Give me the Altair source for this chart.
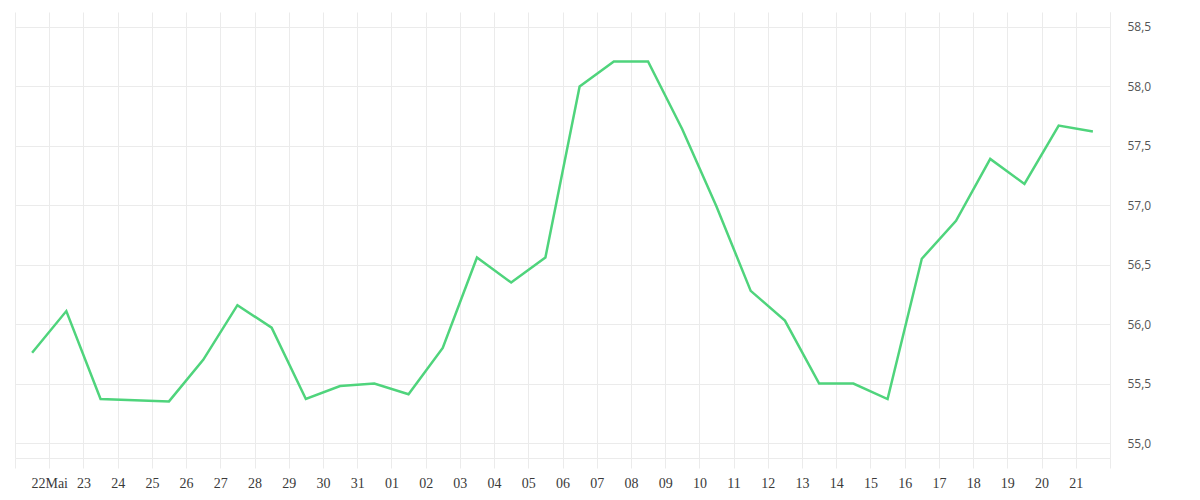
import altair as alt
import pandas as pd

dates = ["2024-05-21", "2024-05-22", "2024-05-23", "2024-05-25", "2024-05-26",
         "2024-05-27", "2024-05-28", "2024-05-29", "2024-05-30", "2024-05-31",
         "2024-06-01", "2024-06-02", "2024-06-03", "2024-06-04", "2024-06-05",
         "2024-06-06", "2024-06-07", "2024-06-08", "2024-06-09", "2024-06-10",
         "2024-06-11", "2024-06-12", "2024-06-13", "2024-06-14", "2024-06-15",
         "2024-06-16", "2024-06-17", "2024-06-18", "2024-06-19", "2024-06-20",
         "2024-06-21"]
values = [55.76, 56.11, 55.37, 55.35, 55.70, 56.16, 55.97, 55.37, 55.48, 55.50,
          55.41, 55.80, 56.56, 56.35, 56.56, 58.00, 58.21, 58.21, 57.64, 56.99,
          56.28, 56.03, 55.50, 55.50, 55.37, 56.55, 56.87, 57.39, 57.18, 57.67,
          57.62]
y_ticks = [55.0, 55.5, 56.0, 56.5, 57.0, 57.5, 58.0, 58.5]
x_start = "2024-05-21"
x_end = "2024-06-22"
first_label_day = "2024-05-22"
first_label_text = "22Mai"

df = pd.DataFrame({"date": [d + "T12:00:00Z" for d in dates], "value": values})

days = pd.date_range(x_start, x_end, freq="D", tz="UTC")
day_ms = [int(d.timestamp() * 1000) for d in days]
start_ms = day_ms[0]
end_ms = day_ms[-1]
first_ms = int(pd.Timestamp(first_label_day, tz="UTC").timestamp() * 1000)

label_expr = (
    f"(time(datum.value) == {start_ms} || time(datum.value) == {end_ms}) ? '' : "
    f"(time(datum.value) == {first_ms} ? '{first_label_text}' : utcFormat(datum.value, '%d'))"
)

grid_color = "#ebebeb"

chart = alt.Chart(df).mark_line(color="#4fd47c", strokeWidth=2.5).encode(
    x=alt.X(
        "date:T",
        scale=alt.Scale(type="utc", domain=[start_ms, end_ms]),
        axis=alt.Axis(
            title=None,
            values=day_ms,
            labelExpr=label_expr,
            grid=True,
            gridColor=grid_color,
            domainColor=grid_color,
            tickColor=grid_color,
            tickSize=10,
            labelOverlap=False,
            labelFlush=False,
            labelFont="Liberation Serif",
            labelFontSize=14,
            labelColor="#3a3a3a",
            labelPadding=8,
        ),
    ),
    y=alt.Y(
        "value:Q",
        scale=alt.Scale(domain=[54.874, 58.626], nice=False, zero=False),
        axis=alt.Axis(
            title=None,
            orient="right",
            values=y_ticks,
            labelExpr="replace(format(datum.value, '.1f'), '.', ',')",
            grid=True,
            gridColor=grid_color,
            domainColor=grid_color,
            ticks=False,
            labelPadding=17,
            labelFont="Open Sans",
            labelFontSize=12,
            labelColor="#555555",
        ),
    ),
).properties(
    width=1095,
    height=446,
    autosize=alt.AutoSizeParams(type="none"),
    padding={"left": 7, "top": 4, "right": 80, "bottom": 38},
).configure_view(stroke=None)

chart.save("out.html", embed_options={"renderer": "svg", "actions": False})
